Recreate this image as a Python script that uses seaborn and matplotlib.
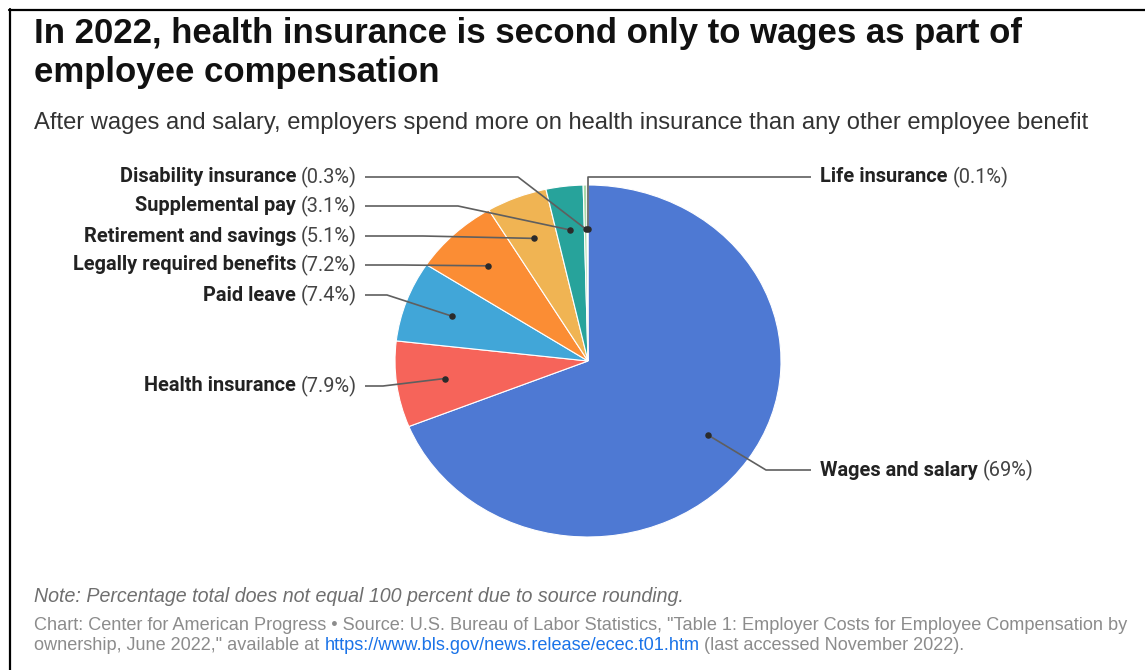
import numpy as np
import matplotlib
matplotlib.use("Agg")
import matplotlib.pyplot as plt
import seaborn as sns
from matplotlib.lines import Line2D

# ---------------- data ----------------
categories = ["Wages and salary", "Health insurance", "Paid leave",
              "Legally required benefits", "Retirement and savings",
              "Supplemental pay", "Disability insurance", "Life insurance"]
values = [69, 7.9, 7.4, 7.2, 5.1, 3.1, 0.3, 0.1]
value_labels = ["69%", "7.9%", "7.4%", "7.2%", "5.1%", "3.1%", "0.3%", "0.1%"]
colors = ["#4e79d3", "#f6645a", "#41a6d8", "#fb8d34", "#f0b453",
          "#27a39b", "#a9d9aa", "#3f9f45"]

title_lines = ["In 2022, health insurance is second only to wages as part of",
               "employee compensation"]
subtitle = ("After wages and salary, employers spend more on health insurance "
            "than any other employee benefit")
note = "Note: Percentage total does not equal 100 percent due to source rounding."
source_1 = ("Chart: Center for American Progress \u2022 Source: U.S. Bureau of Labor "
            "Statistics, \"Table 1: Employer Costs for Employee Compensation by")
source_2a = "ownership, June 2022,\" available at"
source_link = "https://www.bls.gov/news.release/ecec.t01.htm"
source_2b = "(last accessed November 2022)."

# ---------------- layout (pixels, top-left origin) ----------------
W, H = 1145, 670
cx, cy, rx, ry = 588, 361, 193, 176
label_side = ["right", "left", "left", "left", "left", "left", "left", "right"]
label_y = [470, 386, 295, 265, 236, 206, 177, 177]
elbow_x = [766, 383, 387, 402, 423, 458, 518, None]
left_text_x, left_line_x = 357, 365
right_text_x, right_line_x = 820, 811

sns.set_theme(style="white")
plt.rcParams["font.family"] = ["Roboto", "DejaVu Sans"]
head_font = ["Liberation Sans", "DejaVu Sans"]

fig = plt.figure(figsize=(W / 100, H / 100), dpi=100)
fig.patch.set_facecolor("white")

ax = fig.add_axes([(cx - rx) / W, (H - cy - ry) / H, 2 * rx / W, 2 * ry / H])
wedges, _ = ax.pie(values, colors=colors, startangle=90, counterclock=False,
                   wedgeprops=dict(edgecolor="white", linewidth=0.8))
for w in wedges:
    w.set_clip_on(False)
ax.set_aspect("auto")
ax.set_xlim(-1, 1)
ax.set_ylim(-1, 1)
ax.axis("off")

inv = ax.transData.inverted()


def px2data(x, y):
    return inv.transform((x, H - y))


line_color = "#5f5f5f"
for i, w in enumerate(wedges):
    mid = np.deg2rad((w.theta1 + w.theta2) / 2)
    dx, dy = 0.75 * np.cos(mid), 0.75 * np.sin(mid)
    ax.scatter([dx], [dy], s=22, color="#2b2b2b", zorder=6, clip_on=False,
               linewidths=0)
    ly = label_y[i]
    if elbow_x[i] is None:
        dpx = ax.transData.transform((dx, dy))
        top = px2data(dpx[0], ly)
        end = px2data(right_line_x, ly)
        xs = [dx, top[0], end[0]]
        ys = [dy, top[1], end[1]]
    else:
        e = px2data(elbow_x[i], ly)
        endx = right_line_x if label_side[i] == "right" else left_line_x
        en = px2data(endx, ly)
        xs = [dx, e[0], en[0]]
        ys = [dy, e[1], en[1]]
    ax.add_line(Line2D(xs, ys, color=line_color, lw=1.2, zorder=5,
                       clip_on=False, solid_capstyle="butt"))

# ---------------- texts ----------------
renderer = fig.canvas.get_renderer()


def ftext(x, y, s, **kw):
    return fig.text(x / W, 1 - y / H, s, **kw)


def width_px(t):
    return t.get_window_extent(renderer).width


def fit(t, target_w):
    fs = t.get_fontsize()
    t.set_fontsize(fs * target_w / width_px(t))
    return t.get_fontsize()


label_fs = 14.4
gap = 5
for i, cat in enumerate(categories):
    ly = label_y[i]
    pct = "(" + value_labels[i] + ")"
    if label_side[i] == "left":
        t2 = ftext(left_text_x, ly, pct, ha="right", va="center",
                   fontsize=label_fs, color="#444444")
        w2 = width_px(t2)
        ftext(left_text_x - w2 - gap, ly, cat, ha="right", va="center",
              fontsize=label_fs, fontweight="bold", color="#222222")
    else:
        t1 = ftext(right_text_x, ly, cat, ha="left", va="center",
                   fontsize=label_fs, fontweight="bold", color="#222222")
        w1 = width_px(t1)
        ftext(right_text_x + w1 + gap, ly, pct, ha="left", va="center",
              fontsize=label_fs, color="#444444")

t_title = ftext(34, 43, title_lines[0], ha="left", va="baseline", fontsize=20,
                fontweight="bold", color="#111111", family=head_font)
tfs = fit(t_title, 990)
ftext(34, 82, title_lines[1], ha="left", va="baseline", fontsize=tfs,
      fontweight="bold", color="#111111", family=head_font)
t_sub = ftext(34, 123, subtitle, ha="left", va="center", fontsize=14,
              color="#333333", family=head_font)
fit(t_sub, 1065)

t_note = ftext(34, 597, note, ha="left", va="center", fontsize=12,
               style="italic", color="#6f6f6f", family=head_font)
fit(t_note, 650)
src_col = "#8c8c8c"
t_s1 = ftext(34, 626, source_1, ha="left", va="center", fontsize=11,
             color=src_col, family=head_font)
sfs = fit(t_s1, 1096)
ta = ftext(34, 646, source_2a, ha="left", va="center", fontsize=sfs,
           color=src_col, family=head_font)
xa = 34 + width_px(ta) + 5
tl = ftext(xa, 646, source_link, ha="left", va="center", fontsize=sfs,
           color="#1a73e8", family=head_font)
xb = xa + width_px(tl) + 5
ftext(xb, 646, source_2b, ha="left", va="center", fontsize=sfs, color=src_col,
      family=head_font)

# frame lines (top and left)
fig.add_artist(Line2D([9 / W, 1], [1 - 9.5 / H, 1 - 9.5 / H], color="black",
                      lw=1.6, transform=fig.transFigure))
fig.add_artist(Line2D([9.5 / W, 9.5 / W], [0, 1 - 9 / H], color="black",
                      lw=1.6, transform=fig.transFigure))

fig.savefig("out.png", dpi=100)
